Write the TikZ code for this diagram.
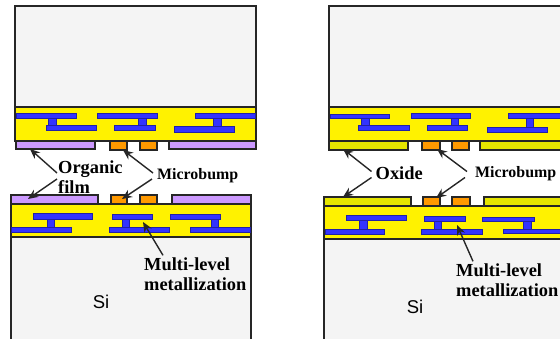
\documentclass[tikz,border=0pt]{standalone}
\usepackage{fontspec}
\setmainfont{Liberation Serif}
\newfontfamily\sifont{Liberation Sans}
\usepackage{tikz}
\usetikzlibrary{arrows.meta}
\definecolor{siface}{HTML}{F4F4F4}
\definecolor{metalfill}{HTML}{3333FF}
\definecolor{filmfill}{HTML}{CC99FF}
\definecolor{oxidefill}{HTML}{E6E600}
\definecolor{bumpfill}{HTML}{FF9900}

\begin{document}
\begin{tikzpicture}[x=1pt,y=-1pt]
  \tikzstyle{layer} = [draw=black!85, line width=1.3pt]
  \tikzstyle{metal} = [draw=black!35!metalfill, line width=.8pt, fill=metalfill]
  \tikzstyle{lbl} = [inner sep=0pt, anchor=west, align=left, font=\bfseries\fontsize{18.4}{20}\selectfont]
  \tikzstyle{lblsmall} = [inner sep=0pt, anchor=west, font=\bfseries\fontsize{15.9}{18}\selectfont]
  \tikzstyle{sitext} = [inner sep=0pt, font=\sifont\fontsize{18.5}{20}\selectfont]
  \tikzstyle{pointer} = [-{Stealth[length=10pt,width=8.5pt]}, line width=1.4pt, draw=black!85]
  \useasboundingbox (0,0) rectangle (560,338);

  % left stack: top die
  \draw[layer, fill=siface] (15,6) rectangle (256,107);
  \draw[layer, fill=yellow] (15,107) rectangle (256,141);
  \foreach \xa/\xb in {16/95,169/256}{
    \draw[layer, fill=filmfill] (\xa,141) rectangle (\xb,149);
  }
  \foreach \xa/\xb in {110/127,140/157}{
    \draw[layer, fill=bumpfill] (\xa,141) rectangle (\xb,150);
  }
  \foreach \xa/\ya/\xb/\yb in {16/113/76/118,97/113/157/118,195/113/255/118,
    48/118/56/125,138/118/146/125,213/118/221/126,
    46/125/96/130,114/125/155/130,174/126/234/132}{
    \draw[metal] (\xa,\ya) rectangle (\xb,\yb);
  }

  % left stack: bottom die
  \draw[layer, fill=siface] (11,237) rectangle (251,345);
  \draw[layer, fill=yellow] (11,204) rectangle (251,237);
  \foreach \xa/\xb in {11/98,172/251}{
    \draw[layer, fill=filmfill] (\xa,195) rectangle (\xb,204);
  }
  \foreach \xa/\xb in {111/127,140/157}{
    \draw[layer, fill=bumpfill] (\xa,195) rectangle (\xb,204);
  }
  \foreach \xa/\ya/\xb/\yb in {33/213/92/219,47/219/54/227,11/227/71/232,
    112/214/152/219,122/219/129/227,109/227/169/232,
    170/214/220/219,211/219/218/227,190/227/250/232}{
    \draw[metal] (\xa,\ya) rectangle (\xb,\yb);
  }

  % right stack: top die
  \draw[layer, fill=siface] (329,6) rectangle (570,107);
  \draw[layer, fill=yellow] (329,107) rectangle (570,141);
  \foreach \xa/\xb in {329/408,480/570}{
    \draw[layer, fill=oxidefill] (\xa,141) rectangle (\xb,150);
  }
  \foreach \xa/\xb in {422/440,452/469}{
    \draw[layer, fill=bumpfill] (\xa,141) rectangle (\xb,150);
  }
  \foreach \xa/\ya/\xb/\yb in {330/114/389/118,411/113/470/118,508/113/570/118,
    361/118/369/125,451/118/458/125,526/118/533/127,
    358/125/409/130,427/125/467/130,487/127/547/132}{
    \draw[metal] (\xa,\ya) rectangle (\xb,\yb);
  }

  % right stack: bottom die
  \draw[layer, fill=siface] (324,239) rectangle (570,345);
  \draw[layer, fill=yellow] (324,206) rectangle (570,239);
  \foreach \xa/\xb in {324/411,484/570}{
    \draw[layer, fill=oxidefill] (\xa,197) rectangle (\xb,206);
  }
  \foreach \xa/\xb in {423/440,452/470}{
    \draw[layer, fill=bumpfill] (\xa,197) rectangle (\xb,206);
  }
  \foreach \xa/\ya/\xb/\yb in {346/215/406/220,359/220/367/229,325/229/384/234,
    424/216/465/221,434/221/441/229,421/229/482/234,
    482/217/534/221,523/221/531/229,503/229/570/233}{
    \draw[metal] (\xa,\ya) rectangle (\xb,\yb);
  }

  % labels
  \node[lbl] (organic) at (58,177) {Organic\\film};
  \node[lblsmall] (bumpa) at (157,176) {Microbump};
  \node[lbl] (multia) at (144,274) {Multi-level\\metallization};
  \node[sitext] (sia) at (101,302) {Si};
  \node[lbl] (oxide) at (375.5,173.5) {Oxide};
  \node[lblsmall] (bumpb) at (475,173.5) {Microbump};
  \node[lbl] (multib) at (456,280) {Multi-level\\metallization};
  \node[sitext] (sib) at (415,307) {Si};

  % arrow tips
  \coordinate (filmtop) at (30,149);
  \coordinate (filmbot) at (28,199);
  \coordinate (bumptopa) at (123,150);
  \coordinate (bumpbota) at (122,199);
  \coordinate (metala) at (143,222);
  \coordinate (oxtop) at (343,149);
  \coordinate (oxbot) at (343,197);
  \coordinate (bumptopb) at (437,149);
  \coordinate (bumpbotb) at (436,198);
  \coordinate (metalb) at (457,225);

  \draw[pointer] ([xshift=-1pt,yshift=4pt]organic.west) -- (filmtop);
  \draw[pointer] ([xshift=-1pt,yshift=-2pt]organic.west) -- (filmbot);
  \draw[pointer] ([xshift=-4pt,yshift=3pt]bumpa.west) -- (bumptopa);
  \draw[pointer] ([xshift=-5pt,yshift=-3pt]bumpa.west) -- (bumpbota);
  \draw[pointer] ([xshift=19pt,yshift=2pt]multia.north west) -- (metala);
  \draw[pointer] ([xshift=-4pt,yshift=2pt]oxide.west) -- (oxtop);
  \draw[pointer] ([xshift=-4pt,yshift=-4pt]oxide.west) -- (oxbot);
  \draw[pointer] ([xshift=-8pt,yshift=2pt]bumpb.west) -- (bumptopb);
  \draw[pointer] ([xshift=-10pt,yshift=-4pt]bumpb.west) -- (bumpbotb);
  \draw[pointer] ([xshift=17pt,yshift=2pt]multib.north west) -- (metalb);
\end{tikzpicture}
\end{document}
